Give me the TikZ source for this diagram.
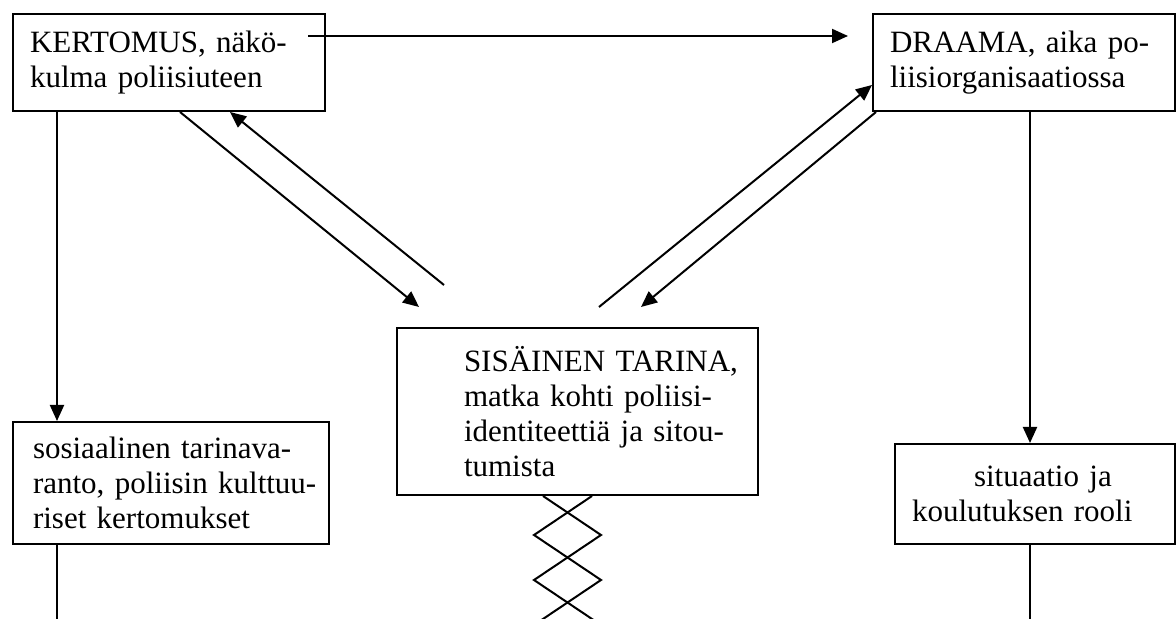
\documentclass[tikz,border=0pt]{standalone}
\usepackage{fontspec}
\setmainfont{Liberation Serif}
\usetikzlibrary{arrows.meta}
\tikzset{
  laatikko/.style={draw, line width=1pt, anchor=north west, align=left,
    inner xsep=8.5pt, inner ysep=0pt, font=\fontsize{15.5pt}{17.5pt}\selectfont},
}
\begin{document}
\begin{tikzpicture}[x=0.5pt,y=-0.5pt,>={Triangle[length=8pt,width=7pt]},line width=1pt]
\useasboundingbox (0,0) rectangle (1176,619);
\node[laatikko,text width=139pt,minimum height=48.5pt] (kertomus) at (12,13) {KERTOMUS, näkö-\\kulma poliisiuteen};
\node[laatikko,text width=134pt,minimum height=48.5pt] (draama) at (872,13) {DRAAMA, aika po-\\liisiorganisaatiossa};
\node[laatikko,inner xsep=5pt,text width=170.5pt,minimum height=83.5pt] (sisainen) at (396,327) {\leftskip=28.5pt SISÄINEN TARINA,\\matka kohti poliisi-\\identiteettiä ja sitou-\\tumista\par};
\node[laatikko,inner xsep=4pt,text width=150pt,minimum height=61pt] (sosiaalinen) at (12,421) {\leftskip=6pt sosiaalinen tarinava-\\ranto, poliisin kulttuu-\\riset kertomukset\par};
\node[laatikko,text width=123pt,minimum height=50pt] (situaatio) at (894,443) {\hspace*{31pt}situaatio ja\\koulutuksen rooli};
\coordinate (ala) at (0,619);
% kertomus -> draama
\coordinate (k-ulos) at ([shift={(-18,23)}]kertomus.north east);
\draw[->,shorten >=12pt] (k-ulos) -- (k-ulos -| draama.west);
% pystyviivat
\coordinate (k-alas) at ([shift={(45,0)}]kertomus.south west);
\draw[->] (k-alas) -- (k-alas |- sosiaalinen.north);
\draw (k-alas |- sosiaalinen.south) -- (k-alas |- ala);
\coordinate (d-alas) at ([shift={(158,0)}]draama.south west);
\draw[->] (d-alas) -- (d-alas |- situaatio.north);
\draw (d-alas |- situaatio.south) -- (d-alas |- ala);
% vinot nuolet
\coordinate (a1) at ([shift={(-158.5,-20)}]sisainen.north);
\coordinate (a2) at ([shift={(-133.5,-42)}]sisainen.north);
\coordinate (b1) at ([shift={(21.5,-20)}]sisainen.north);
\coordinate (b2) at ([shift={(63.5,-20)}]sisainen.north);
\draw[->] ([shift={(168,0)}]kertomus.south west) -- (a1);
\draw[->] (a2) -- ([shift={(218,0)}]kertomus.south west);
\draw[->] (b1) -- ([shift={(0,-27)}]draama.south west);
\draw[->] ([shift={(4,0)}]draama.south west) -- (b2);
% siksak
\draw ([shift={(-34.5,0)}]sisainen.south) -- ++(58,39) -- ++(-67,45) -- ++(61,41);
\draw ([shift={(14.5,0)}]sisainen.south) -- ++(-58,39) -- ++(67,45) -- ++(-61,41);
\end{tikzpicture}
\end{document}
